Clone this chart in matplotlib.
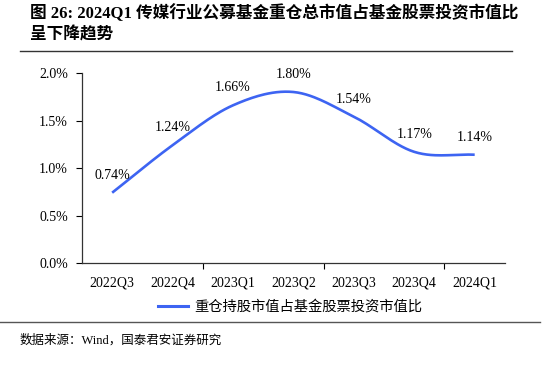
import numpy as np
import matplotlib.pyplot as plt
from matplotlib.lines import Line2D

plt.rcParams['font.family'] = ['Liberation Serif', 'Noto Sans CJK SC']

quarters = ['2022Q3', '2022Q4', '2023Q1', '2023Q2', '2023Q3', '2023Q4', '2024Q1']
ratio = [0.74, 1.24, 1.66, 1.80, 1.54, 1.17, 1.14]
series_name = '重仓持股市值占基金股票投资市值比'
title = '图 26: 2024Q1 传媒行业公募基金重仓总市值占基金股票投资市值比\n呈下降趋势'
source = '数据来源：Wind，国泰君安证券研究'

blue = '#3d64f2'


def smooth(x, y, n=30):
    # Catmull-Rom curve through the points (like Excel's smoothed line)
    x = np.asarray(x, float)
    y = np.asarray(y, float)
    px = np.concatenate([[2 * x[0] - x[1]], x, [2 * x[-1] - x[-2]]])
    py = np.concatenate([[2 * y[0] - y[1]], y, [2 * y[-1] - y[-2]]])
    xs, ys = [], []
    t = np.linspace(0, 1, n)
    for i in range(1, len(px) - 2):
        for p, out in ((px, xs), (py, ys)):
            p0, p1, p2, p3 = p[i - 1], p[i], p[i + 1], p[i + 2]
            out.append(0.5 * (2 * p1 + (-p0 + p2) * t
                              + (2 * p0 - 5 * p1 + 4 * p2 - p3) * t ** 2
                              + (-p0 + 3 * p1 - 3 * p2 + p3) * t ** 3))
    return np.concatenate(xs), np.concatenate(ys)


fig = plt.figure(figsize=(5.5, 3.68), dpi=100)
ax = fig.add_axes([0.149, 0.2853, 0.769, 0.5163])

x = np.arange(len(quarters))
sx, sy = smooth(x, ratio)
ax.plot(sx, sy, color=blue, lw=1.9, solid_capstyle='butt')

for xi, v in zip(x, ratio):
    ax.annotate(f'{v:.2f}%', (xi, v), xytext=(0, 8), textcoords='offset points',
                ha='center', va='bottom', fontsize=10)

ax.set_xlim(-0.5, len(quarters) - 0.5)
ax.set_ylim(0, 2.0)
ax.set_yticks([0, 0.5, 1.0, 1.5, 2.0])
ax.set_yticklabels([f'{t:.1f}%' for t in [0, 0.5, 1.0, 1.5, 2.0]], fontsize=10)
ax.set_xticks(x)
ax.set_xticklabels(quarters, fontsize=10)
ax.tick_params(axis='x', length=0, pad=10)
ax.tick_params(axis='y', length=4, width=0.8, direction='out', pad=6)
ax.set_xticks([1.5, 3.5, 5.5], minor=True)
ax.tick_params(axis='x', which='minor', length=4, width=0.8, direction='out')
for s in ['top', 'right']:
    ax.spines[s].set_visible(False)
for s in ['left', 'bottom']:
    ax.spines[s].set_color('#333333')
    ax.spines[s].set_linewidth(0.9)

leg = ax.legend([Line2D([], [], color=blue, lw=2.2)], [series_name],
                loc='center', frameon=False,
                prop={'family': 'Noto Sans CJK SC', 'size': 10.3},
                handlelength=2.1, handletextpad=0.4)
leg.set_bbox_to_anchor((290 / 550, 1 - 307 / 368), transform=fig.transFigure)

fig.text(30 / 550, 1 - 4 / 368, title, ha='left', va='top', fontsize=12,
         fontweight='bold', linespacing=1.45)
fig.add_artist(Line2D([20 / 550, 512 / 550], [1 - 51 / 368] * 2, color='#333333', lw=1.0))
fig.add_artist(Line2D([0, 540 / 550], [1 - 322 / 368] * 2, color='#555555', lw=1.0))
fig.text(20 / 550, 1 - 340 / 368, source, ha='left', va='center', fontsize=9)

fig.savefig('out.png', dpi=100)
